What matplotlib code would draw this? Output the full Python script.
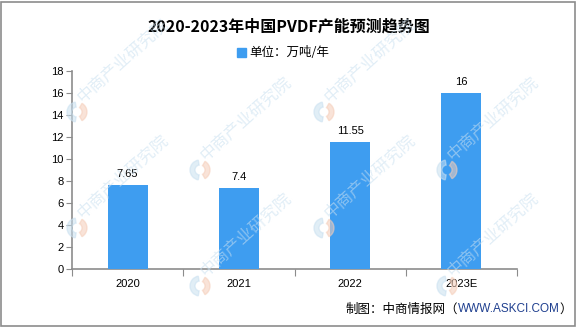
import matplotlib.pyplot as plt
from matplotlib.patches import Rectangle, Wedge
import numpy as np

plt.rcParams['font.family'] = ['Noto Sans CJK SC', 'DejaVu Sans']

years = ['2020', '2021', '2022', '2023E']
capacity = [7.65, 7.4, 11.55, 16]
value_labels = ['7.65', '7.4', '11.55', '16']
yticks = [0, 2, 4, 6, 8, 10, 12, 14, 16, 18]

W, H = 585, 327
num_font = ['Liberation Sans', 'DejaVu Sans']
fig = plt.figure(figsize=(W / 100, H / 100), dpi=100)

# outer border
fig.patches.append(Rectangle((1 / W, 1 / H), 574 / W, 324 / H, transform=fig.transFigure,
                             fill=False, edgecolor='#8c8c8c', linewidth=1.2, zorder=1))

ax = fig.add_axes([72 / W, 1 - 269 / H, 445 / W, 198 / H])
ax.patch.set_alpha(0)
x = np.arange(len(years))
ax.bar(x, capacity, width=0.36, color='#3e9df0', zorder=3)
for xi, v, lab in zip(x, capacity, value_labels):
    ax.text(xi, v + 0.55, lab, ha='center', va='bottom', fontsize=8, fontfamily=num_font)

ax.set_xlim(-0.5, 3.5)
ax.set_ylim(0, 18)
ax.set_yticks(yticks)
ax.set_yticklabels([str(t) for t in yticks], fontsize=8, fontfamily=num_font)
ax.set_xticks(np.arange(-0.5, 4, 1))
ax.set_xticklabels([])
ax.set_xticks(x, minor=True)
ax.set_xticklabels(years, minor=True, fontsize=8, fontfamily=num_font)
ax.tick_params(axis='x', which='major', length=5, color='#8c8c8c')
ax.tick_params(axis='x', which='minor', length=0, pad=7)
ax.tick_params(axis='y', length=4, color='#8c8c8c', pad=2)
for s in ['top', 'right']:
    ax.spines[s].set_visible(False)
for s in ['left', 'bottom']:
    ax.spines[s].set_color('#8c8c8c')
    ax.spines[s].set_linewidth(1.2)

fig.text(289 / W, 1 - 27 / H, '2020-2023年中国PVDF产能预测趋势图', ha='center', va='center',
         fontsize=11.5, fontweight='bold')
fig.patches.append(Rectangle((237 / W, 1 - 57 / H), 9 / W, 9 / H, transform=fig.transFigure,
                             color='#3e9df0'))
fig.text(249 / W, 1 - 52 / H, '单位：万吨/年', ha='left', va='center', fontsize=9)

# footer, right aligned, url in blue
t1 = fig.text(572 / W, 1 - 309 / H, '）', ha='right', va='center', fontsize=9)
t2 = ax.annotate('WWW.ASKCI.COM', xy=(0, 0.5), xycoords=t1, ha='right', va='center',
                 fontsize=8.5, color='#1f3f8f', fontfamily=num_font, annotation_clip=False)
ax.annotate('制图：中商情报网（', xy=(0, 0.5), xycoords=t2, ha='right', va='center',
            fontsize=9, annotation_clip=False)

# faint watermark pattern, drawn over everything
wm_pos = [(77, 112), (324, 112), (200, 170), (447, 170),
          (77, 228), (324, 228), (200, 286), (447, 286)]
for px, py in wm_pos:
    fig.patches.append(Wedge((px, H - py), 10, 100, 260, width=5, transform=None,
                             color='#c9e0f0', alpha=0.55, zorder=5))
    fig.patches.append(Wedge((px, H - py), 10, -60, 60, width=5, transform=None,
                             color='#f5cdb9', alpha=0.55, zorder=5))
    fig.text((px + 8) / W, 1 - (py - 6) / H, '中商产业研究院', rotation=42,
             fontsize=12, color='#c9e0f0', alpha=0.55, ha='left', va='bottom',
             rotation_mode='anchor', zorder=5)

fig.savefig('out.png', dpi=100)
